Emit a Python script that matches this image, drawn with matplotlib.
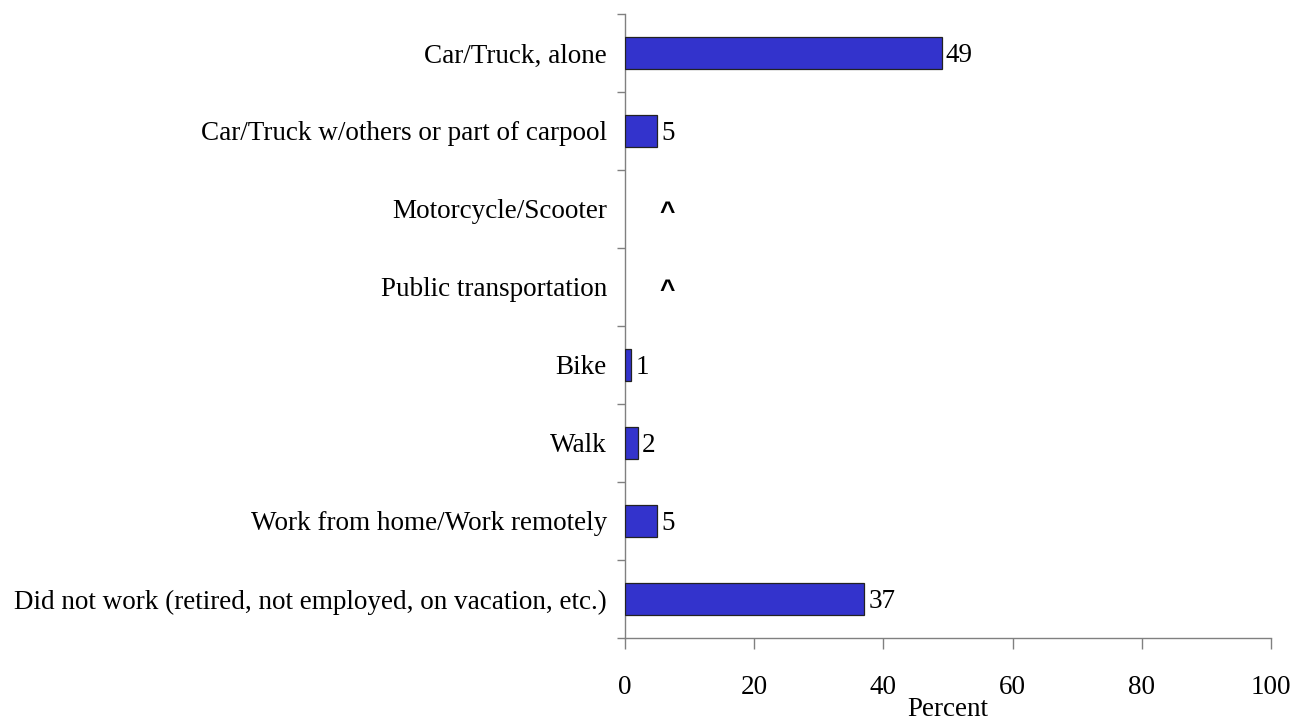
import matplotlib.pyplot as plt
import numpy as np

categories = [
    "Car/Truck, alone",
    "Car/Truck w/others or part of carpool",
    "Motorcycle/Scooter",
    "Public transportation",
    "Bike",
    "Walk",
    "Work from home/Work remotely",
    "Did not work (retired, not employed, on vacation, etc.)",
]
# None = suppressed estimate, shown as "^"
percent = [49, 5, None, None, 1, 2, 5, 37]
xticks = [0, 20, 40, 60, 80, 100]

plt.rcParams['font.family'] = ['Liberation Serif', 'DejaVu Serif']
FS = 19.5

fig = plt.figure(figsize=(12.93, 7.2), dpi=100)
fig.patch.set_facecolor('white')
ax = fig.add_axes([0.4834, 0.1139, 0.4996, 0.8667])

n = len(categories)
ypos = np.arange(n)
shown = [(y, v) for y, v in zip(ypos, percent) if v is not None]
ax.barh([y for y, _ in shown], [v for _, v in shown], height=0.41,
        color='#3333cc', edgecolor='#222222', linewidth=0.9, zorder=3)

for y, v in zip(ypos, percent):
    if v is None:
        ax.annotate('^', (6.5, y), xytext=(0, -7.6), textcoords='offset points',
                    ha='center', va='baseline', fontsize=19,
                    fontweight='bold', family='Liberation Sans')
    else:
        ax.annotate(str(v), (v, y), xytext=(3, 0), textcoords='offset points',
                    ha='left', va='center_baseline', fontsize=FS)

ax.set_xlim(0, 100)
ax.set_ylim(n - 0.5, -0.5)
ax.set_xticks(xticks)
ax.set_xticklabels([str(t) for t in xticks], fontsize=FS)
ax.set_yticks(ypos)
ax.set_yticklabels(categories, fontsize=FS)
ax.set_yticks(np.arange(n + 1) - 0.5, minor=True)

ax.tick_params(axis='y', which='major', length=0, pad=13)
ax.tick_params(axis='y', which='minor', length=6, width=1, color='#808080')
ax.tick_params(axis='x', which='major', length=8, width=1, color='#808080', pad=19)
ax.set_xlabel('Percent', fontsize=FS, labelpad=-2.5)

for side in ['top', 'right']:
    ax.spines[side].set_visible(False)
for side in ['left', 'bottom']:
    ax.spines[side].set_color('#808080')
    ax.spines[side].set_linewidth(1)

fig.savefig('out.png', dpi=100)
